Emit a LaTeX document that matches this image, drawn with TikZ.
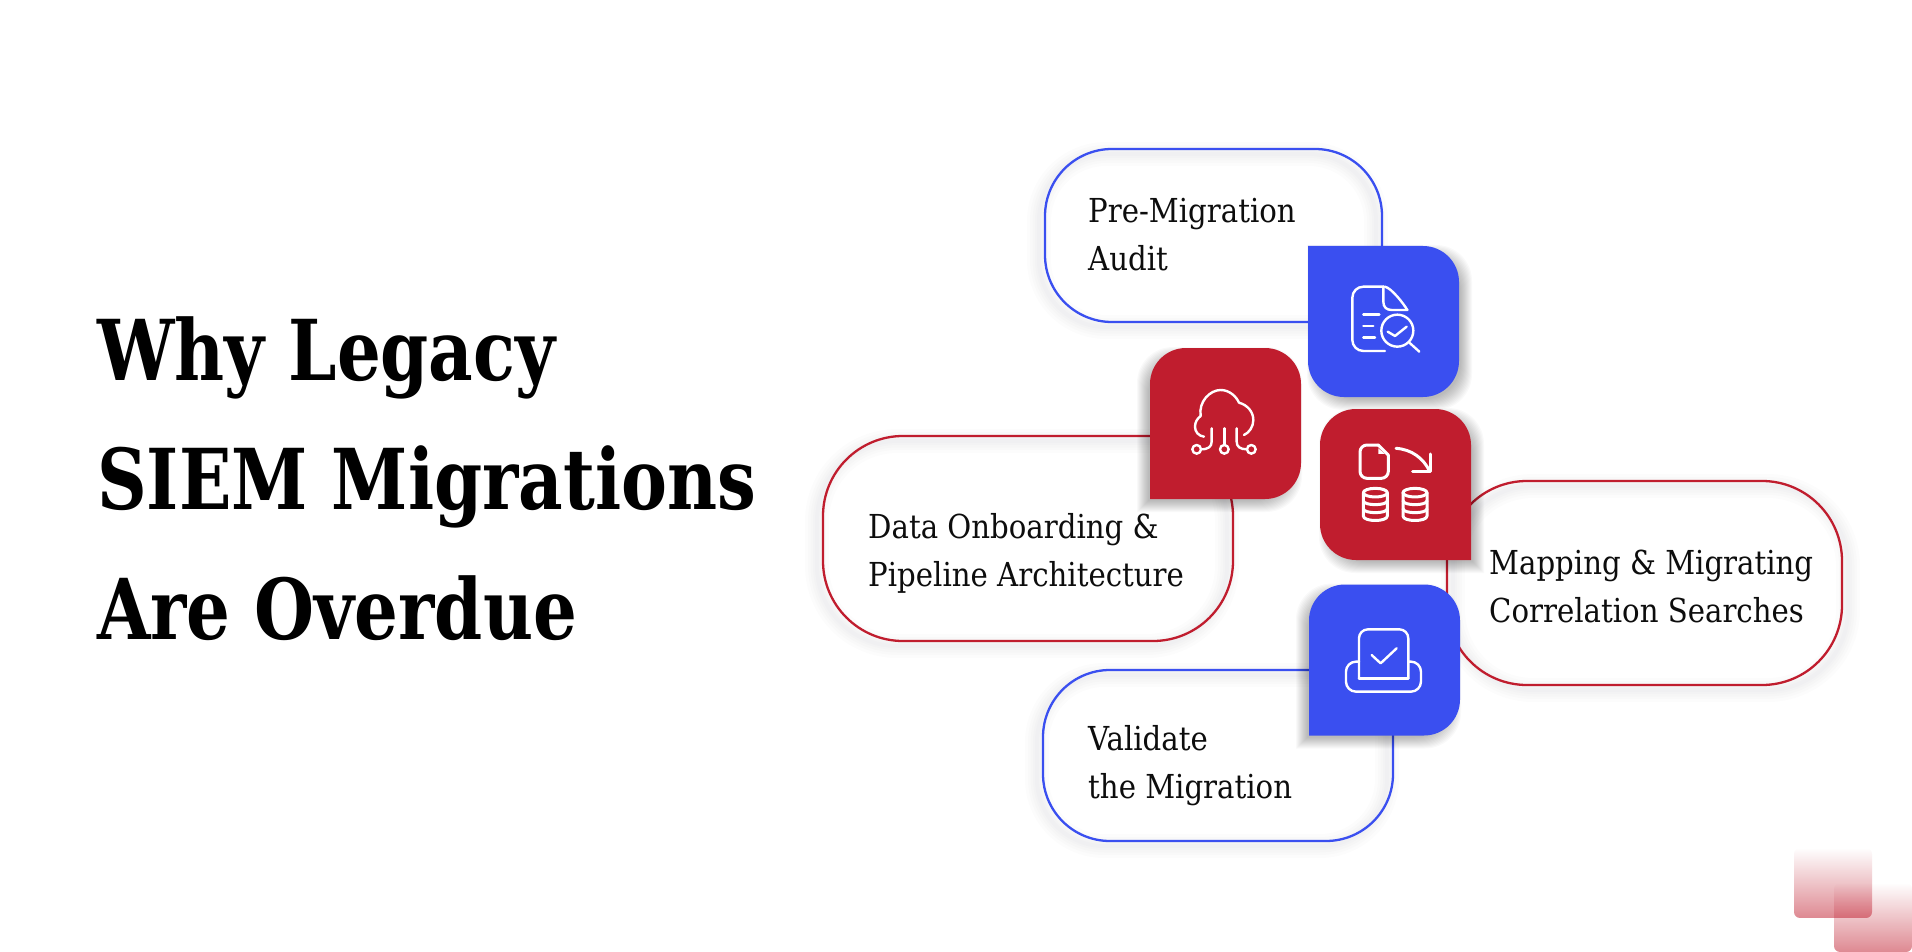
\documentclass[tikz,border=0pt]{standalone}
\usepackage{fontspec}
\usetikzlibrary{fadings}
\setmainfont{DejaVu Serif}
\newfontfamily\titlefont[FakeStretch=0.82]{DejaVu Serif Bold}
\newfontfamily\labelfont[FakeStretch=0.885]{DejaVu Serif}
\definecolor{planblue}{RGB}{58,79,240}
\definecolor{planred}{RGB}{192,29,46}
\tikzfading[name=fadeup, top color=transparent!100, bottom color=transparent!48]
\tikzset{
  boxnode/.style={minimum width=151pt, minimum height=151pt, inner sep=0pt, outer sep=0pt},
  pillnode/.style={inner sep=0pt, outer sep=0pt},
  steptext/.style={anchor=base west, align=left, inner sep=0pt, text=black!95, font=\labelfont\fontsize{33}{48}\selectfont},
  iconline/.style={white, line width=2.4pt, line cap=round, line join=round}
}
% shadow rings, then the outline
\newcommand{\pillbox}[5]{
  \foreach \w in {24,18,13,8,4}{
    \draw[black!70!blue, opacity=0.012, line width=\w pt, rounded corners=#2 pt] ([shift={(#4,5)}]#1.north west) rectangle ([shift={(#4,5)}]#1.south east);
  }
  \draw[#3, line width=2.3pt, rounded corners=#2 pt] (#1.north west) rectangle (#1.south east);
}
% first corner given stays sharp
\newcommand{\iconbox}[7]{
  \foreach \k in {7,6,5,4,3,2,1,0,-1,-2,-3,-4}{
    \node[minimum width=151pt+2pt*\k, minimum height=151pt+2pt*\k, inner sep=0pt, outer sep=0pt] (shade) at ([shift={(#7,6)}]#1.center) {};
    \fill[black, opacity=0.024, rounded corners=36pt] (shade.#3) -- (shade.#4) -- (shade.#5) -- (shade.#6) -- (shade.#3);
  }
  \fill[#2, rounded corners=36pt] (#1.#3) -- (#1.#4) -- (#1.#5) -- (#1.#6) -- (#1.#3);
}

\begin{document}
\begin{tikzpicture}[x=1pt, y=-1pt]
  \useasboundingbox (0,0) rectangle (1912,952);
  \fill[white] (0,0) rectangle (1912,952);

  % corner squares
  \fill[planred, rounded corners=6pt, path fading=fadeup] (1794,848) rectangle (1872,918);
  \fill[planred, rounded corners=6pt, path fading=fadeup] (1834,883) rectangle (1912,952);

  \node[anchor=base west, align=left, inner sep=0pt, font=\titlefont\fontsize{84}{129.5}\selectfont] (title) at (97,639) {Why Legacy\\SIEM Migrations\\Are Overdue};

  % outlines
  \node[pillnode, minimum width=337pt, minimum height=173pt] (auditpill) at (1213.5,235.5) {};
  \node[pillnode, minimum width=410pt, minimum height=205pt] (datapill) at (1028,538.5) {};
  \node[pillnode, minimum width=395pt, minimum height=204pt] (mappill) at (1644.5,583) {};
  \node[pillnode, minimum width=350pt, minimum height=171pt] (validpill) at (1218,755.5) {};
  \pillbox{auditpill}{67}{planblue}{-6}{}
  \pillbox{datapill}{80}{planred}{-6}{}
  \pillbox{mappill}{80}{planred}{6}{}
  \pillbox{validpill}{67}{planblue}{-6}{}

  \node[steptext] (audittext) at (1088,270) {Pre-Migration\\Audit};
  \node[steptext] (datatext) at (868,586) {Data Onboarding \&\\Pipeline Architecture};
  \node[steptext] (maptext) at (1489,622) {Mapping \& Migrating\\Correlation Searches};
  \node[steptext] (validtext) at (1088,798) {Validate\\the Migration};

  % icon squares
  \node[boxnode] (auditbox) at (1383.5,321.5) {};
  \node[boxnode] (databox) at (1225.5,423.5) {};
  \node[boxnode] (mapbox) at (1395.5,484.5) {};
  \node[boxnode] (validbox) at (1384.5,660) {};
  \iconbox{auditbox}{planblue}{north west}{north east}{south east}{south west}{6}
  \iconbox{databox}{planred}{south west}{north west}{north east}{south east}{-6}
  \iconbox{mapbox}{planred}{south east}{south west}{north west}{north east}{6}
  \iconbox{validbox}{planblue}{south west}{north west}{north east}{south east}{-6}

  % document and lens
  \begin{scope}[shift={(1320,270)}, x=0.3333pt, y=-0.3333pt]
    \draw[iconline, rounded corners=11pt] (195,243) -- (97,243) -- (97,50) -- (192,50);
    \draw[iconline] (190,50) -- (190,95) .. controls (190,112) and (200,120) .. (215,120) -- (262,120);
    \draw[iconline] (195,50) .. controls (215,55) and (250,100) .. (262,120);
    \draw[iconline] (130,133) -- (178,133);
    \draw[iconline] (130,168) -- (160,168);
    \draw[iconline] (130,203) -- (165,203);
    \draw[iconline] (232,182) circle[radius=48];
    \draw[iconline] (203,185) -- (225,198) -- (260,170);
    \draw[iconline] (268,218) -- (298,245);
  \end{scope}

  % cloud
  \begin{scope}[shift={(1130,330)}, x=0.3333pt, y=-0.3333pt]
    \draw[iconline] (222,320) .. controls (205,318) and (195,305) .. (195,290) .. controls (195,275) and (203,265) .. (212,258) .. controls (205,215) and (240,180) .. (272,180) .. controls (297,180) and (318,198) .. (327,218) .. controls (352,225) and (370,245) .. (370,270) .. controls (370,290) and (358,308) .. (342,315);
    \draw[iconline] (245,295) -- (245,335) .. controls (245,350) and (235,358) .. (213,358);
    \draw[iconline] (283,295) -- (283,345);
    \draw[iconline] (320,295) -- (320,335) .. controls (320,350) and (330,358) .. (351,358);
    \foreach \x in {200,283,364}{
      \draw[iconline] (\x,358) circle[radius=13];
    }
  \end{scope}

  % document, arrow, two stores
  \begin{scope}[shift={(1340,430)}, x=0.3333pt, y=-0.3333pt, iconline/.append style={line width=3pt}]
    \draw[iconline, rounded corners=7pt] (115,45) -- (60,45) -- (60,145) -- (145,145) -- (145,75);
    \draw[iconline] (115,45) -- (145,75);
    \fill[white] (115,55) -- (135,72) -- (115,72) -- cycle;
    \draw[iconline] (168,55) .. controls (215,58) and (250,85) .. (268,122);
    \draw[iconline] (218,125) -- (270,125) -- (270,72);
    \foreach \x in {106,225}{
      \draw[iconline] (\x,188) ellipse[x radius=36, y radius=13];
      \draw[iconline] (\x-36,188) -- (\x-36,258) .. controls (\x-36,276) and (\x+36,276) .. (\x+36,258) -- (\x+36,188);
      \draw[iconline] (\x-36,212) .. controls (\x-36,228) and (\x+36,228) .. (\x+36,212);
      \draw[iconline] (\x-36,236) .. controls (\x-36,252) and (\x+36,252) .. (\x+36,236);
    }
  \end{scope}

  % tray
  \begin{scope}[shift={(1020,570)}, x=0.3333pt, y=-0.3333pt]
    \draw[iconline, rounded corners=9pt] (1017,325) -- (1017,178) -- (1165,178) -- (1165,325);
    \draw[iconline] (1017,325) -- (1165,325);
    \draw[iconline, rounded corners=10pt] (1017,275) -- (978,275) -- (978,365) -- (1203,365) -- (1203,275) -- (1165,275);
    \draw[iconline] (1055,255) -- (1082,280) -- (1130,235);
  \end{scope}
\end{tikzpicture}
\end{document}
